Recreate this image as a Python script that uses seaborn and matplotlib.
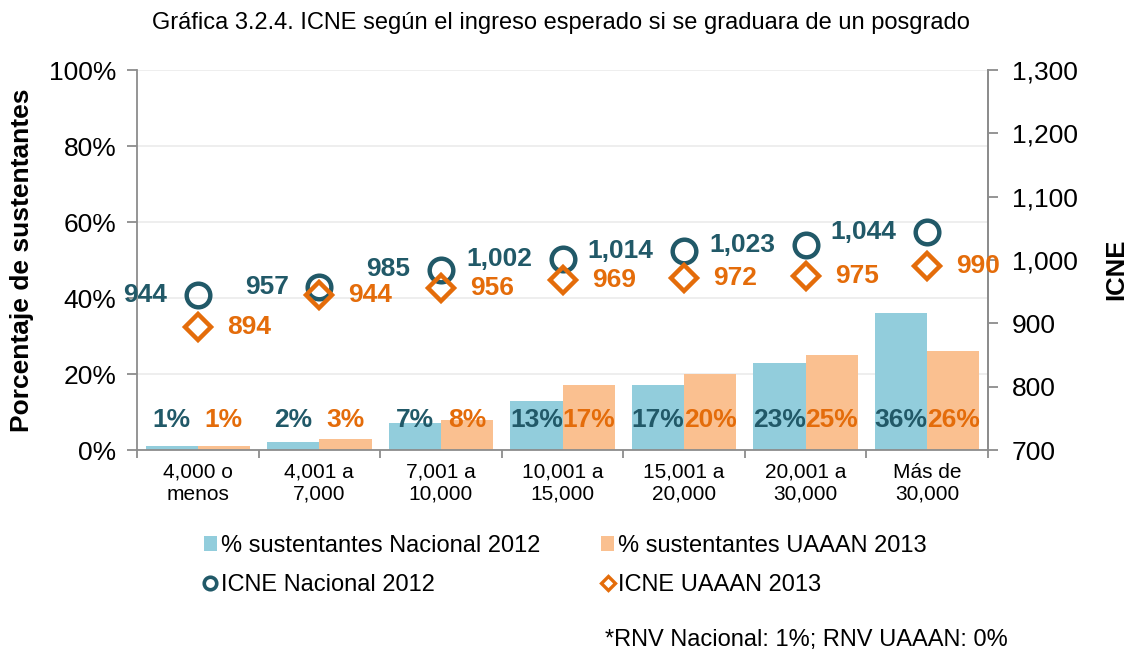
import numpy as np
import pandas as pd
import matplotlib
matplotlib.use("Agg")
import matplotlib.pyplot as plt
import matplotlib.ticker as mticker
from matplotlib.patches import Patch
from matplotlib.lines import Line2D
import seaborn as sns

# --- datos ---
categories = ["4,000 o\nmenos", "4,001 a\n7,000", "7,001 a\n10,000", "10,001 a\n15,000",
              "15,001 a\n20,000", "20,001 a\n30,000", "Más de\n30,000"]
pct_nacional = [1, 2, 7, 13, 17, 23, 36]
pct_uaaan = [1, 3, 8, 17, 20, 25, 26]
icne_nacional = [944, 957, 985, 1002, 1014, 1023, 1044]
icne_uaaan = [894, 944, 956, 969, 972, 975, 990]
series = ["% sustentantes Nacional 2012", "% sustentantes UAAAN 2013"]

blue_bar = "#92CDDC"
orange_bar = "#FAC090"
teal = "#215968"
orange = "#E46C0A"
gray = "#8C8C8C"

sns.set_style("white")
plt.rcParams["font.family"] = ["Liberation Sans", "DejaVu Sans"]
plt.rcParams["text.color"] = "black"
plt.rcParams["axes.labelcolor"] = "black"
plt.rcParams["xtick.labelcolor"] = "black"
plt.rcParams["ytick.labelcolor"] = "black"

df = pd.DataFrame({
    "rango": categories * 2,
    "pct": pct_nacional + pct_uaaan,
    "serie": [series[0]] * len(categories) + [series[1]] * len(categories),
})

fig = plt.figure(figsize=(11.26, 6.53), dpi=100)
ax = fig.add_axes([137 / 1126, 1 - 450 / 653, (988 - 137) / 1126, (450 - 70) / 653])

sns.barplot(data=df, x="rango", y="pct", hue="serie", palette=[blue_bar, orange_bar],
            width=0.86, gap=0, saturation=1, legend=False, linewidth=0, ax=ax, zorder=2)

ax.set_ylim(0, 100)
ax.set_xlim(-0.5, len(categories) - 0.5)
ax.set_yticks(np.arange(0, 101, 20))
ax.yaxis.set_major_formatter(mticker.FuncFormatter(lambda v, p: f"{v:.0f}%"))
ax.set_axisbelow(True)
ax.grid(axis="y", color="#EBEBEB", linewidth=1.2)
ax.grid(axis="x", visible=False)
ax.set_xlabel("")
ax.set_ylabel("")

# etiquetas de barras (dentro, cerca de la base)
label_colors = [teal, orange]
for cont, vals, col in zip(ax.containers, [pct_nacional, pct_uaaan], label_colors):
    for bar, v in zip(cont, vals):
        ax.text(bar.get_x() + bar.get_width() / 2, 7.8, f"{v}%", ha="center", va="center",
                color=col, fontsize=19, fontweight="bold", zorder=5)

# ejes y ticks
ax.spines["top"].set_visible(False)
for s in ["left", "bottom", "right"]:
    ax.spines[s].set_color(gray)
    ax.spines[s].set_linewidth(1.3)
ax.tick_params(axis="y", which="major", length=7, width=1.3, color=gray, pad=8,
               labelsize=19, left=True, labelcolor="black")
ax.tick_params(axis="x", which="major", length=0, pad=9, labelsize=15, labelcolor="black")
ax.xaxis.set_minor_locator(mticker.FixedLocator(np.arange(-0.5, len(categories), 1)))
ax.tick_params(axis="x", which="minor", length=6, width=1.3, color=gray, bottom=True)

ax2 = ax.twinx()
x = np.arange(len(categories))
ax2.plot(x, icne_nacional, linestyle="none", marker="o", markersize=17, markerfacecolor="none",
         markeredgecolor=teal, markeredgewidth=3.2, zorder=4)
ax2.plot(x, icne_uaaan, linestyle="none", marker="D", markersize=13.5, markerfacecolor="none",
         markeredgecolor=orange, markeredgewidth=3.2, zorder=4)
ax2.set_ylim(700, 1300)
ax2.set_yticks(np.arange(700, 1301, 100))
ax2.yaxis.set_major_formatter(mticker.FuncFormatter(lambda v, p: f"{v:,.0f}"))
ax2.tick_params(axis="y", length=7, width=1.3, color=gray, pad=10, labelsize=19,
                labelcolor="black")
for s in ["top", "left", "bottom"]:
    ax2.spines[s].set_visible(False)
ax2.spines["right"].set_color(gray)
ax2.spines["right"].set_linewidth(1.3)
ax2.grid(False)

for xi, v in zip(x, icne_nacional):
    ax2.annotate(f"{v:,}", (xi, v), xytext=(-22, 0), textcoords="offset points",
                 ha="right", va="center", color=teal, fontsize=19, fontweight="bold")
for xi, v in zip(x, icne_uaaan):
    ax2.annotate(f"{v:,}", (xi, v), xytext=(21, 0), textcoords="offset points",
                 ha="left", va="center", color=orange, fontsize=19, fontweight="bold")

# titulos de ejes
fig.text(22 / 1126, 1 - 260 / 653, "Porcentaje de sustentantes", rotation=90,
         ha="center", va="center", fontsize=19, fontweight="bold")
fig.text(1116 / 1126, 1 - 269 / 653, "ICNE", rotation=90,
         ha="center", va="center", fontsize=18.5, fontweight="bold")

fig.text(561 / 1126, 1 - 23 / 653,
         "Gráfica 3.2.4. ICNE según el ingreso esperado si se graduara de un posgrado",
         ha="center", va="center", fontsize=17)

# leyenda
handles = [
    Patch(facecolor=blue_bar, edgecolor="none", label=series[0]),
    Line2D([], [], linestyle="none", marker="o", markersize=9, markerfacecolor="none",
           markeredgecolor=teal, markeredgewidth=2.6, label="ICNE Nacional 2012"),
    Patch(facecolor=orange_bar, edgecolor="none", label=series[1]),
    Line2D([], [], linestyle="none", marker="D", markersize=7, markerfacecolor="none",
           markeredgecolor=orange, markeredgewidth=2.4, label="ICNE UAAAN 2013"),
]
fig.legend(handles=handles, ncol=2, loc="upper left", bbox_to_anchor=(204 / 1126, 1 - 535 / 653),
           frameon=False, fontsize=17, handlelength=0.55, handleheight=0.6, handletextpad=0.15,
           columnspacing=2.6, labelspacing=0.72, borderpad=0, borderaxespad=0)

fig.text(605 / 1126, 1 - 640 / 653, "*RNV Nacional: 1%; RNV UAAAN: 0%",
         ha="left", va="center", fontsize=17)

fig.savefig("out.png", dpi=100)
